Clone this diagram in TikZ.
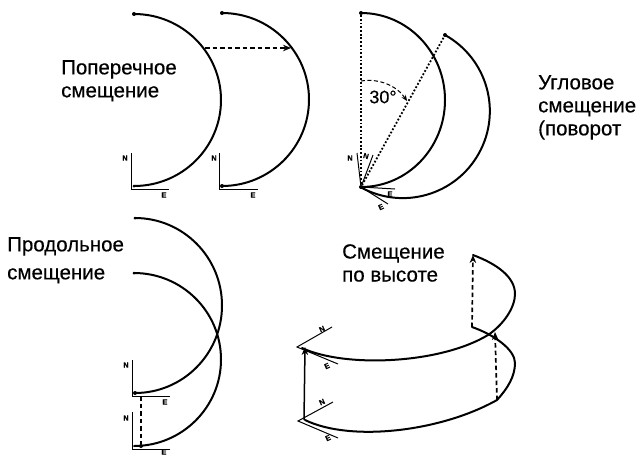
\documentclass[tikz,border=0pt]{standalone}
\usepackage{fontspec}
\setmainfont[FakeBold=0.35]{Liberation Sans}
\usetikzlibrary{arrows.meta}
\tikzset{
 curve/.style={line width=2pt,line cap=round,black},
 axis/.style={line width=1pt,black},
 dashline/.style={line width=1.7pt,dash pattern=on 4.5pt off 3pt,black},
 dotline/.style={line width=1.8pt,dash pattern=on 1.8pt off 1.9pt,black},
 head/.style={-{Stealth[length=8pt,width=6.5pt]}},
 lab/.style={font=\fontsize{20.5}{23}\selectfont,align=left,anchor=north west,inner sep=0pt,text=black},
 ax/.style={font=\fontsize{7.5}{8}\selectfont\bfseries,inner sep=0pt,text=black},
 dot/.style={circle,fill=black,inner sep=0pt,minimum size=4pt},
}
\begin{document}
\begin{tikzpicture}[x=1pt,y=-1pt]
\useasboundingbox (0,0) rectangle (639,456);
% texts
\node[lab] (t1) at (61,60) {Поперечное\\смещение};
\node[lab] (t2) at (538,75) {Угловое\\смещение\\(поворот};
\node[lab] (t3) at (7,237) {Продольное\\[5pt]смещение};
\node[lab] (t4) at (342,244) {Смещение\\по высоте};
% top left
\node[dot] (a1) at (134,14) {};
\node[dot,minimum size=3pt] (a2) at (134,186) {};
\draw[curve] (134,14) arc[start angle=-90,end angle=90,x radius=87,y radius=86];
\coordinate (ax1o) at (131,189);
\coordinate (ax1n) at (131,153);
\coordinate (ax1e) at (169,189);
\draw[axis] (ax1n) -- (ax1o) -- (ax1e);
\node[ax] (n1) at (125,158) {N};
\node[ax] (e1) at (164,195) {E};
\node[dot] (b1) at (222,13) {};
\node[dot] (b2) at (222,186) {};
\draw[curve] (222,13) arc[start angle=-90,end angle=90,x radius=87,y radius=86.5];
\coordinate (ax2o) at (219,189);
\coordinate (ax2n) at (219,153);
\coordinate (ax2e) at (258,189);
\draw[axis] (ax2n) -- (ax2o) -- (ax2e);
\node[ax] (n2) at (214,158) {N};
\node[ax] (e2) at (253,195) {E};
\coordinate (s1) at (205,48);
\coordinate (s2) at (291,48);
\draw[dashline,head] (s1) -- (s2);
% top middle
\node[dot] (c1) at (361,13) {};
\node[dot] (c2) at (361,187) {};
\node[dot] (c3) at (445,35) {};
\draw[curve] (361,13) arc[start angle=-90,end angle=90,x radius=84,y radius=87];
\draw[curve] (445,35) arc[start angle=-61,end angle=119,radius=87];
\draw[dotline] (c1) -- (c2);
\draw[dotline] (c2) -- (c3);
\coordinate (r1) at (361,81);
\coordinate (r2) at (407,101);
\draw[line width=1pt,dash pattern=on 4pt off 2.5pt,-{Stealth[length=6pt,width=5pt]}] (r1) .. controls (379,78) and (397,86) .. (r2);
\node[inner sep=0pt,font=\fontsize{18}{20}\selectfont] (ang) at (383,97) {30°};
\coordinate (cn1) at (357,153);
\coordinate (cn2) at (373,155);
\coordinate (ce1) at (395,189);
\coordinate (ce2) at (388,204);
\draw[axis] (c2) -- (cn1);
\draw[axis] (c2) -- (cn2);
\draw[axis] (c2) -- (ce1);
\draw[axis] (c2) -- (ce2);
\node[ax] (n3) at (350,158) {N};
\node[ax,rotate=-15] (n4) at (366,156) {N};
\node[ax] (e3) at (390,194) {E};
\node[ax,rotate=25] (e4) at (381,207) {E};
% bottom left
\node[dot,minimum size=3pt] (d1) at (135,218) {};
\node[dot] (d2) at (135,393) {};
\node[dot,minimum size=3pt] (d3) at (134,273) {};
\node[dot] (d4) at (141,446) {};
\draw[curve] (135,218) arc[start angle=-90,end angle=90,x radius=87,y radius=87.5];
\draw[curve] (134,273) arc[start angle=-90,end angle=90,x radius=87,y radius=86.5];
\coordinate (ax3o) at (132,396);
\coordinate (ax3n) at (132,360);
\coordinate (ax3e) at (170,396);
\draw[axis] (ax3n) -- (ax3o) -- (ax3e);
\node[ax] (n5) at (126,365) {N};
\node[ax] (e5) at (165,402) {E};
\coordinate (ax4o) at (132,449);
\coordinate (ax4n) at (132,412);
\coordinate (ax4e) at (170,449);
\draw[axis] (ax4n) -- (ax4o) -- (ax4e);
\node[ax] (n6) at (126,418) {N};
\node[ax] (e6) at (164,452) {E};
\coordinate (v1) at (141,396);
\draw[dashline] (v1) -- (d4);
% bottom right
\draw[curve] (473,255) .. controls (497,264) and (515,277) .. (515,294)
  .. controls (515,308) and (503,325) .. (488,335)
  .. controls (440,364) and (345,368) .. (302,348);
\draw[curve] (305,420) .. controls (350,442) and (440,432) .. (497,400)
  .. controls (508,388) and (515,376) .. (515,363)
  .. controls (515,350) and (495,335) .. (472,327);
\coordinate (u1) at (472,327);
\coordinate (u2) at (473,255);
\coordinate (w1) at (497,400);
\coordinate (w2) at (495,332);
\coordinate (y1) at (304,420);
\coordinate (y2) at (305,347);
\draw[dashline,head] (u1) -- (u2);
\draw[dashline,head] (w1) -- (w2);
\draw[line width=1.5pt,head] (y1) -- (y2);
\coordinate (o1) at (297,347);
\coordinate (o1n) at (332,327);
\coordinate (o1e) at (338,364);
\draw[axis] (o1n) -- (o1) -- (o1e);
\node[ax,rotate=25] (n7) at (322,329) {N};
\node[ax,rotate=25] (e7) at (327,366) {E};
\coordinate (o2) at (298,421);
\coordinate (o2n) at (333,402);
\coordinate (o2e) at (338,438);
\draw[axis] (o2n) -- (o2) -- (o2e);
\node[ax,rotate=25] (n8) at (322,402) {N};
\node[ax,rotate=25] (e8) at (328,438) {E};
\end{tikzpicture}
\end{document}
